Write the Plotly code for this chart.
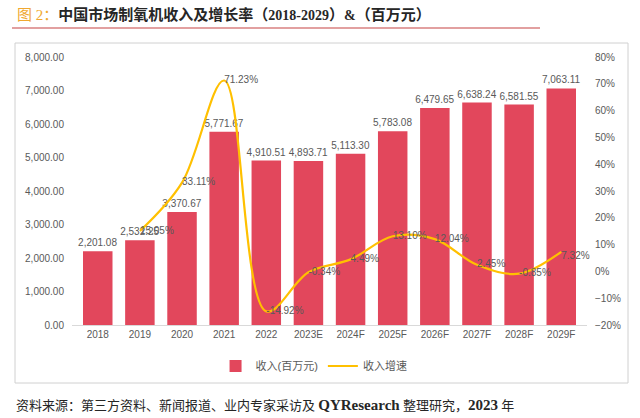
import plotly.graph_objects as go

categories = ["2018", "2019", "2020", "2021", "2022", "2023E", "2024F", "2025F",
              "2026F", "2027F", "2028F", "2029F"]
revenue = [2201.08, 2532.25, 3370.67, 5771.67, 4910.51, 4893.71, 5113.30, 5783.08,
           6479.65, 6638.24, 6581.55, 7063.11]
growth = [None, 0.1505, 0.3311, 0.7123, -0.1492, -0.0034, 0.0449, 0.1310,
          0.1204, 0.0245, -0.0085, 0.0732]

num_font = "Liberation Sans, Noto Sans CJK SC, sans-serif"
serif_font = "Liberation Serif, Noto Sans CJK SC, serif"
gray = "#595959"

label_pos = ["middle right"] * len(categories)
label_pos[-1] = "bottom right"

fig = go.Figure()
fig.add_trace(go.Bar(
    x=categories, y=revenue, name="收入(百万元)",
    marker=dict(color="#E2475C", line=dict(width=0)),
    width=0.7,
    text=[f"{v:,.2f}" for v in revenue], textposition="outside",
    constraintext="none",
    textfont=dict(family=num_font, size=10, color=gray),
    cliponaxis=False,
))
fig.add_trace(go.Scatter(
    x=categories, y=growth, name="收入增速", yaxis="y2",
    mode="lines+text",
    line=dict(color="#FFC000", width=2.2, shape="spline", smoothing=1.0),
    text=["" if g is None else f"{g*100:.2f}%" for g in growth],
    textposition=label_pos,
    textfont=dict(family=num_font, size=10, color=gray),
    cliponaxis=False,
))

title_html = ("<span style='color:#F0A830'>图 2：</span><b>中国市场制氧机收入及增长率"
              "（<span style='font-size:14px'>2018-2029</span>）"
              "<span style='font-size:14px'>&</span>（百万元）</b>")
source_html = ("资料来源：第三方资料、新闻报道、业内专家采访及 "
               "<b><span style='font-size:15px'>QYResearch</span></b> 整理研究，"
               "<b><span style='font-size:15px'>2023</span></b> 年")

fig.update_layout(
    width=640, height=418,
    margin=dict(l=72, r=53, t=57, b=93),
    paper_bgcolor="white", plot_bgcolor="white",
    showlegend=True,
    legend=dict(orientation="h", x=0.47, xanchor="center", y=-(366-325)/268, yanchor="middle",
                font=dict(family=num_font, size=11, color=gray),
                itemwidth=30, traceorder="normal"),
    xaxis=dict(showgrid=False, showline=True, linecolor="#D9D9D9", linewidth=1,
               ticks="", tickfont=dict(family=num_font, size=10, color=gray)),
    yaxis=dict(range=[0, 8000], dtick=1000, tickformat=",.2f", showgrid=False,
               zeroline=False, showline=False, ticks="", ticklabelstandoff=7,
               tickfont=dict(family=num_font, size=10, color=gray)),
    yaxis2=dict(range=[-0.2, 0.8], dtick=0.1, tickformat=".0%", overlaying="y",
                side="right", showgrid=False, zeroline=False, showline=False,
                ticks="", ticklabelstandoff=7,
                tickfont=dict(family=num_font, size=10, color=gray)),
    bargap=0.3,
    shapes=[
        dict(type="rect", xref="paper", yref="paper", x0=-57/515, x1=(628-72)/515,
             y0=1 + (57-43)/268, y1=-(383-325)/268,
             line=dict(color="#D0D0D0", width=1), fillcolor="rgba(0,0,0,0)", layer="below"),
        dict(type="line", xref="paper", yref="paper", x0=-60/515, x1=(540-72)/515,
             y0=1 + (57-28)/268, y1=1 + (57-28)/268,
             line=dict(color="#D98080", width=1.5)),
    ],
    annotations=[
        dict(text=title_html,
             xref="paper", yref="paper", x=-57/515, y=1 + (57-15)/268,
             xanchor="left", yanchor="middle", showarrow=False,
             font=dict(family=serif_font, size=15, color="#262626")),
        dict(text=source_html,
             xref="paper", yref="paper", x=-58/515, y=-(405-325)/268,
             xanchor="left", yanchor="middle", showarrow=False,
             font=dict(family=serif_font, size=13, color="#262626")),
    ],
)

fig.write_html("out.html")
